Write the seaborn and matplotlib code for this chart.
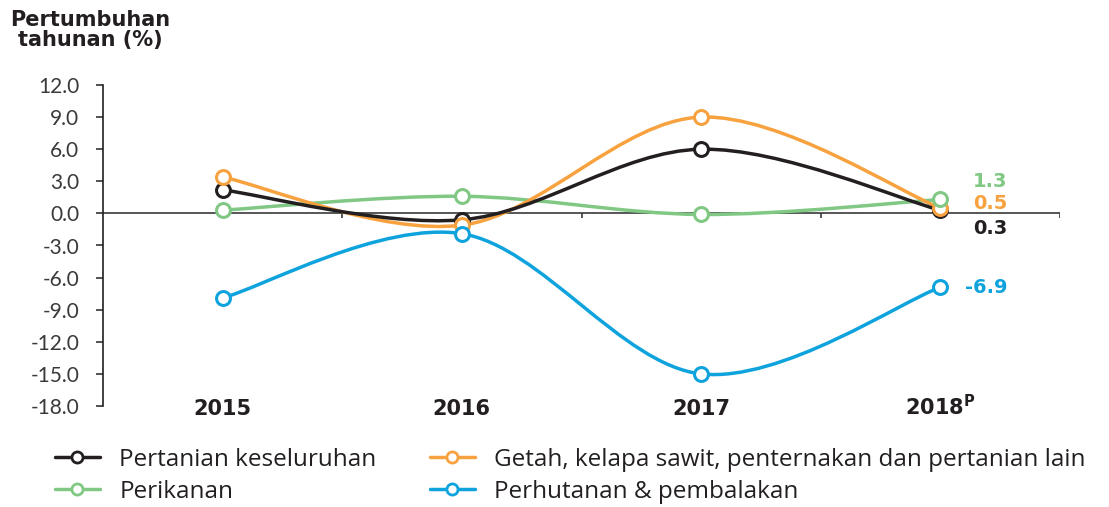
import matplotlib
matplotlib.use("Agg")
import matplotlib.pyplot as plt
from matplotlib.path import Path
from matplotlib.patches import PathPatch
from matplotlib.lines import Line2D
import seaborn as sns
import numpy as np
import pandas as pd

# data
years = ["2015", "2016", "2017", "2018$^{\\mathbf{P}}$"]
pertanian = [2.2, -0.6, 6.0, 0.3]
getah = [3.4, -1.1, 9.0, 0.5]
perikanan = [0.3, 1.6, -0.1, 1.3]
perhutanan = [-7.9, -1.9, -15.0, -6.9]

names = ["Pertanian keseluruhan", "Getah, kelapa sawit, penternakan dan pertanian lain",
         "Perikanan", "Perhutanan & pembalakan"]
colors = ["#231f20", "#f7a23f", "#80c883", "#0fa3dd"]
series = [pertanian, getah, perikanan, perhutanan]

df = pd.DataFrame({
    "pos": np.tile(np.arange(len(years)), len(names)),
    "value": np.concatenate(series),
    "series": np.repeat(names, len(years)),
})

sns.set_style("white")
plt.rcParams["font.family"] = ["Lato", "DejaVu Sans"]
bold_font = ["DejaVu Sans"]

fig = plt.figure(figsize=(11.09, 5.07), dpi=100)
ax = fig.add_axes([103 / 1109, 1 - 406 / 507, 957 / 1109, 321 / 507])


def smooth_path(xs, ys):
    # excel-like smoothed line: cubic bezier through the points
    pts = np.column_stack([xs, ys]).astype(float)
    n = len(pts)
    verts = [pts[0]]
    codes = [Path.MOVETO]
    for i in range(n - 1):
        p0 = pts[max(i - 1, 0)]
        p1 = pts[i]
        p2 = pts[i + 1]
        p3 = pts[min(i + 2, n - 1)]
        c1 = p1 + (p2 - p0) / 6.0
        c2 = p2 - (p3 - p1) / 6.0
        verts += [c1, c2, p2]
        codes += [Path.CURVE4] * 3
    return Path(verts, codes)


draw_order = [3, 2, 1, 0]
for k in draw_order:
    patch = PathPatch(smooth_path(range(len(years)), series[k]), facecolor="none",
                      edgecolor=colors[k], lw=2.5, zorder=2 + (3 - k) * 0.1,
                      capstyle="round")
    ax.add_patch(patch)

sns.lineplot(data=df, x="pos", y="value", hue="series", hue_order=names,
             palette=colors, marker="o", markersize=10, markerfacecolor="white",
             markeredgewidth=2.2, linewidth=0, legend=False, ax=ax, zorder=4)
for ln in ax.lines:
    ln.set_markeredgecolor(ln.get_color())

ax.set_xlim(-0.5, 3.5)
ax.set_ylim(-18, 12)
ax.set_yticks(np.arange(-18, 13, 3))
ax.set_yticklabels([f"{v:.1f}" for v in np.arange(-18, 13, 3)])
ax.set_xticks(range(len(years)))
ax.set_xticklabels(years, fontweight="bold", fontsize=15, color="#231f20",
                   family=bold_font)
for lbl in ax.get_xticklabels():
    lbl.set_verticalalignment("baseline")
ax.tick_params(axis="x", length=0, pad=6.5)
ax.tick_params(axis="y", direction="out", length=5, width=1.1, color="#231f20",
               pad=12, labelsize=15, labelcolor="#3a3a3a", left=True)
for s in ["top", "right", "bottom"]:
    ax.spines[s].set_visible(False)
ax.spines["left"].set_color("#231f20")
ax.spines["left"].set_linewidth(1.2)
ax.set_xlabel("")
ax.set_ylabel("")

# zero line with category separators
ax.axhline(0, color="#3a3a3a", lw=1.2, zorder=1)
ax.vlines(np.arange(0.5, 3.6, 1.0), -0.45, 0, color="#3a3a3a", lw=1.2, zorder=1)

# end labels
offsets = [-18, 5, 18, 0]
for k in range(4):
    v = series[k][-1]
    ax.annotate(f"{v:.1f}", xy=(3, v), xytext=(48, offsets[k] * 0.72),
                textcoords="offset points", ha="right", va="center",
                fontsize=14, fontweight="bold", color=colors[k], family=bold_font)

fig.text(90 / 1109, 1 - 10 / 507, "Pertumbuhan\ntahunan (%)", ha="center", va="top",
         fontsize=15, fontweight="bold", color="#231f20", linespacing=1.0,
         family=bold_font)

handles = [Line2D([0], [0], color=c, lw=2.5, marker="o", markersize=8,
                  markerfacecolor="white", markeredgewidth=2.0, markeredgecolor=c)
           for c in colors]
leg_kw = dict(loc="upper left", frameon=False, borderpad=0, borderaxespad=0,
              prop={"family": ["Open Sans", "DejaVu Sans"], "size": 17.5},
              handlelength=1.85, handletextpad=0.8, labelspacing=0.32,
              labelcolor="#231f20")
for col, x0 in [([0, 2], 55), ([1, 3], 430)]:
    leg = fig.legend([handles[i] for i in col], [names[i] for i in col],
                     bbox_to_anchor=(x0 / 1109, 1 - 448 / 507), **leg_kw)

fig.savefig("out.png", dpi=100)
